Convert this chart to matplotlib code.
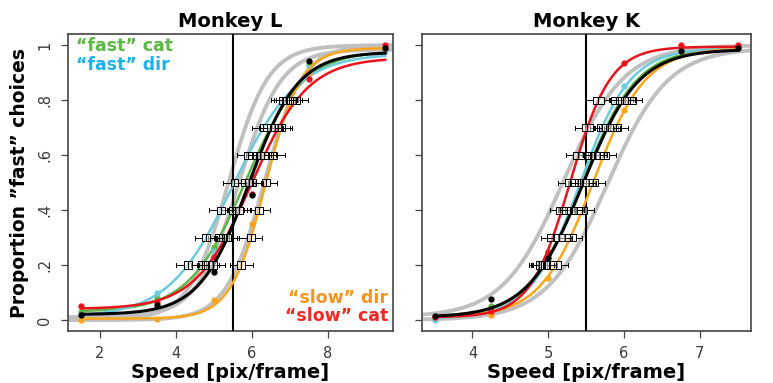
import numpy as np
import matplotlib
matplotlib.use('Agg')
import matplotlib.pyplot as plt

plt.rcParams['font.family'] = ['DejaVu Sans']

# condition order: "fast" cat, "fast" dir, "slow" dir, "slow" cat, all
cond_names = ['fast cat', 'fast dir', 'slow dir', 'slow cat', 'all']
line_cols = ['#5cb846', '#6ccbdc', '#ffa51a', '#e8141c', 'black']
text_cols = ['#5db946', '#1fb0e8', '#f7941d', '#ee2a24']

# Monkey L: logistic fit parameters (mu, slope, guess, lapse)
mu_L = [5.83, 5.50, 6.36, 5.99, 5.92]
s_L = [0.75, 0.85, 0.46, 0.74, 0.645]
g_L = [0.03, 0.01, 0.005, 0.04, 0.02]
l_L = [0.02, 0.03, 0.01, 0.045, 0.025]
grey_mu_L = [5.38, 5.65, 6.32]
grey_s_L = [0.52, 0.55, 0.50]
grey_g_L = [0.0, 0.01, 0.0]
grey_l_L = [0.0, 0.015, 0.0]
speed_L = [1.5, 3.5, 5.0, 6.0, 7.5, 9.5]
pts_L = [
    [0.03, 0.08, 0.267, 0.50, 0.93, 0.985],
    [0.02, 0.10, 0.25, 0.52, 0.92, 0.98],
    [0.0, 0.005, 0.073, 0.35, 0.90, 0.99],
    [0.05, 0.065, 0.23, 0.46, 0.879, 1.0],
    [0.02, 0.055, 0.176, 0.455, 0.944, 0.99],
]

# Monkey K
mu_K = [5.45, 5.42, 5.59, 5.29, 5.46]
s_K = [0.36, 0.33, 0.345, 0.265, 0.364]
g_K = [0.01, 0.005, 0.01, 0.01, 0.01]
l_K = [0.01, 0.01, 0.01, 0.005, 0.015]
grey_mu_K = [5.20, 5.78]
grey_s_K = [0.40, 0.40]
grey_g_K = [0.01, 0.0]
grey_l_K = [0.0, 0.01]
speed_K = [3.5, 4.25, 5.0, 6.0, 6.75, 7.5]
pts_K = [
    [0.01, 0.05, 0.23, 0.80, 0.98, 0.99],
    [0.0, 0.04, 0.24, 0.85, 0.99, 0.99],
    [0.01, 0.02, 0.153, 0.766, 0.98, 0.99],
    [0.01, 0.033, 0.249, 0.936, 1.0, 1.0],
    [0.015, 0.075, 0.225, 0.80, 0.978, 0.99],
]

levels = [0.2, 0.3, 0.4, 0.5, 0.6, 0.7, 0.8]
boundary = 5.5


def psy(x, mu, s, g, l):
    return g + (1 - g - l) / (1 + np.exp(-(x - mu) / s))


def inv_psy(y, mu, s, g, l):
    p = (y - g) / (1 - g - l)
    return mu + s * np.log(p / (1 - p))


def panel(ax, mus, ss, gs, ls, gmus, gss, ggs, gls, xs, pts, xlim, box_hw, whisk):
    xx = np.linspace(xlim[0], xlim[1], 300)
    for mu, s, g, l in zip(gmus, gss, ggs, gls):
        ax.plot(xx, psy(xx, mu, s, g, l), color='#c0c0c0', lw=2.8, zorder=2)
    ax.axvline(boundary, color='black', lw=1.5, zorder=3)
    xc = np.linspace(xs[0], xs[-1], 300)
    for i in range(5):
        ax.plot(xc, psy(xc, mus[i], ss[i], gs[i], ls[i]), color=line_cols[i],
                lw=2.2 if i == 4 else 1.8, zorder=4)
        ax.plot(xs, pts[i], 'o', color=line_cols[i], ms=3.5, zorder=4)
    for i in range(5):
        stats = []
        for lv in levels:
            m = inv_psy(lv, mus[i], ss[i], gs[i], ls[i])
            stats.append(dict(med=m, q1=m - box_hw, q3=m + box_hw,
                              whislo=m - whisk, whishi=m + whisk, fliers=[]))
        ax.bxp(stats, positions=levels, widths=0.026, orientation='horizontal',
               patch_artist=True, manage_ticks=False,
               boxprops=dict(facecolor=(1, 1, 1, 0.5), edgecolor='black', lw=0.7),
               medianprops=dict(color='black', lw=0.8),
               whiskerprops=dict(color='black', lw=0.7),
               capprops=dict(color='black', lw=0.7), capwidths=0.014, zorder=5)
    ax.set_xlim(xlim)
    ax.set_ylim(-0.04, 1.04)
    for sp in ax.spines.values():
        sp.set_color('#444444')
        sp.set_linewidth(1.2)
    ax.tick_params(length=5, width=0.9, color='#444444', labelcolor='#3a3a3a',
                   labelsize=10.5, pad=6)
    ax.set_yticks([0, 0.2, 0.4, 0.6, 0.8, 1])
    ax.set_xlabel('Speed [pix/frame]', fontsize=14, fontweight='bold', labelpad=1)


fig = plt.figure(figsize=(7.73, 3.83), dpi=100)
axL = fig.add_axes([0.0876, 0.1358, 0.4204, 0.7747])
axK = fig.add_axes([0.5455, 0.1358, 0.4256, 0.7747])

panel(axL, mu_L, s_L, g_L, l_L, grey_mu_L, grey_s_L, grey_g_L, grey_l_L,
      speed_L, pts_L, (1.15, 9.7), 0.10, 0.30)
panel(axK, mu_K, s_K, g_K, l_K, grey_mu_K, grey_s_K, grey_g_K, grey_l_K,
      speed_K, pts_K, (3.33, 7.67), 0.07, 0.16)

axL.set_xticks([2, 4, 6, 8])
axL.set_yticklabels(['0', '.2', '.4', '.6', '.8', '1'], rotation=90, va='center')
axK.set_xticks([4, 5, 6, 7])
axK.set_yticklabels([])

axL.set_title('Monkey L', fontsize=14, fontweight='bold', pad=5)
axK.set_title('Monkey K', fontsize=14, fontweight='bold', pad=5)
axL.set_ylabel('Proportion \u201dfast\u201d choices', fontsize=13.5,
               fontweight='bold', labelpad=6)

axL.text(0.025, 0.96, '\u201cfast\u201d cat', color=text_cols[0], fontsize=12.5,
         fontweight='bold', transform=axL.transAxes, va='center')
axL.text(0.025, 0.895, '\u201cfast\u201d dir', color=text_cols[1], fontsize=12.5,
         fontweight='bold', transform=axL.transAxes, va='center')
axL.text(0.985, 0.11, '\u201cslow\u201d dir', color=text_cols[2], fontsize=12.5,
         fontweight='bold', transform=axL.transAxes, va='center', ha='right')
axL.text(0.985, 0.05, '\u201cslow\u201d cat', color=text_cols[3], fontsize=12.5,
         fontweight='bold', transform=axL.transAxes, va='center', ha='right')

fig.savefig('out.png', dpi=100)
